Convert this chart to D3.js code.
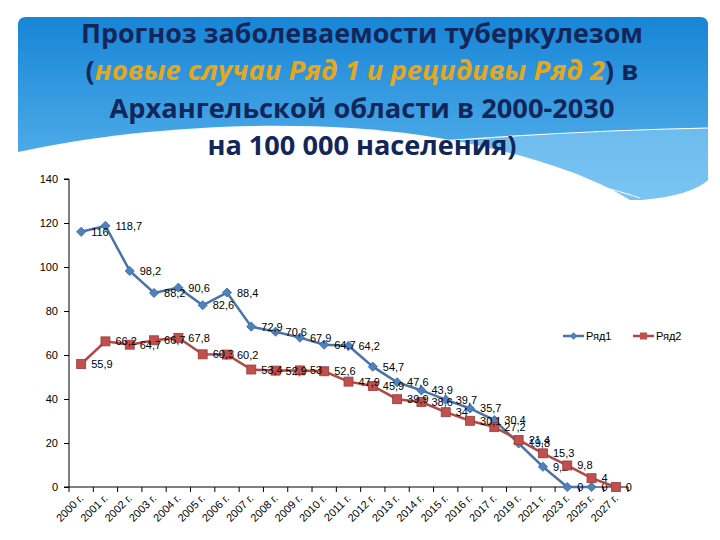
<!DOCTYPE html>
<html><head><meta charset="utf-8">
<script src="https://cdn.jsdelivr.net/npm/d3@7"></script>
<style>body{margin:0;background:#fff}svg{display:block}</style>
</head><body>
<svg id="c" width="720" height="540"></svg>
<script>
const categories = ["2000 г.","2001 г.","2002 г.","2003 г.","2004 г.","2005 г.","2006 г.","2007 г.","2008 г.","2009 г.","2010 г.","2011 г.","2012 г.","2013 г.","2014 г.","2015 г.","2016 г.","2017 г.","2019 г.","2021 г.","2023 г.","2025 г.","2027 г."];
const series1 = [116,118.7,98.2,88.2,90.6,82.6,88.4,72.9,70.6,67.9,64.7,64.2,54.7,47.6,43.9,39.7,35.7,30.4,19.8,9.2,0,0,null];
const series2 = [55.9,66.2,64.7,66.7,67.8,60.3,60.2,53.4,52.9,53,52.6,47.9,45.9,39.9,38.6,34,30.1,27.2,21.4,15.3,9.8,4,0];
const seriesNames = ["Ряд1","Ряд2"];
const yTicks = [0,20,40,60,80,100,120,140];

(function(){
const svg = d3.select("#c");
const defs = svg.append("defs");
const g = defs.append("linearGradient").attr("id","hg").attr("x1",0).attr("y1",0).attr("x2",0).attr("y2",1);
g.append("stop").attr("offset","0%").attr("stop-color","#1785d6");
g.append("stop").attr("offset","100%").attr("stop-color","#62b9ef");
defs.append("clipPath").attr("id","hc").append("path")
  .attr("d","M26,17 H700 Q708,17 708,25 V180 Q690,196 640,200 L18,200 V25 Q18,17 26,17 Z");

const hdr = svg.append("g").attr("clip-path","url(#hc)");
hdr.append("rect").attr("x",18).attr("y",17).attr("width",690).attr("height",190).attr("fill","url(#hg)");
hdr.append("path").attr("d","M380,150 C480,138 600,130 708,128 V200 H380 Z").attr("fill","#8fd0f6").attr("opacity",0.55);
hdr.append("path").attr("d","M18,152 C140,125 300,118 420,135 C520,150 590,175 630,200 L18,205 Z").attr("fill","#ffffff");
hdr.append("path").attr("d","M390,145 C500,136 610,130 708,128").attr("fill","none").attr("stroke","#ffffff").attr("stroke-width",1.2);
hdr.append("path").attr("d","M500,168 C560,175 600,185 640,198").attr("fill","none").attr("stroke","#ffffff").attr("stroke-width",1);

const tf = "'Open Sans', 'DejaVu Sans', sans-serif";
const navy = "#13265a";
function tline(yy, len){
  return svg.append("text").attr("x",362).attr("y",yy).attr("text-anchor","middle")
    .attr("font-family",tf).attr("font-weight","bold").attr("font-size",26).attr("fill",navy)
    .attr("textLength",len).attr("lengthAdjust","spacingAndGlyphs");
}
tline(43,562).text("Прогноз заболеваемости туберкулезом");
const l2 = tline(80,553);
l2.append("tspan").text("(");
l2.append("tspan").attr("fill","#e6a81a").attr("font-style","italic").text("новые случаи Ряд 1 и рецидивы Ряд 2");
l2.append("tspan").text(") в");
tline(118,505).text("Архангельской области в 2000-2030");
tline(155,309).text("на 100 000 населения)");

const pl = 69, pr = 628, pt = 179, pb = 487;
const x = d3.scaleBand().domain(categories).range([pl,pr]);
const y = d3.scaleLinear().domain([0,140]).range([pb,pt]);
const cx = d => x(d) + x.bandwidth()/2;
const lf = "'Liberation Sans', Arial, sans-serif";

// y axis
const ya = svg.append("g").attr("transform",`translate(${pl},0)`)
  .call(d3.axisLeft(y).tickValues(yTicks).tickSize(5).tickPadding(6).tickFormat(d3.format("d")));
ya.select(".domain").attr("stroke","#000").attr("d",`M-5,${pb}H0V${pt}H-5`);
ya.selectAll(".tick line").attr("stroke","#000");
ya.selectAll("text").attr("font-family",lf).attr("font-size",11).attr("fill","#000");

// x axis
const xa = svg.append("g").attr("transform",`translate(0,${pb})`)
  .call(d3.axisBottom(x).tickSize(0).tickFormat(()=>""));
xa.select(".domain").attr("stroke","#000").attr("d",`M${pl},0H${pr}`);
const bounds = categories.map((c,i)=>pl + i*x.step()).concat([pr]);
xa.selectAll(".bt").data(bounds).enter().append("line").attr("class","bt")
  .attr("x1",d=>d).attr("x2",d=>d).attr("y1",0).attr("y2",5).attr("stroke","#000");
svg.append("g").selectAll("text").data(categories).enter().append("text")
  .attr("transform",d=>`translate(${cx(d)+3},${pb+12}) rotate(-45)`)
  .attr("text-anchor","end").attr("font-family",lf).attr("font-size",11).attr("fill","#000")
  .text(d=>d);

const fmt = v => String(v).replace(".",",");
const colors = [{line:"#4a73a8", fill:"#4f81bd", stroke:"#3d6a9e"},{line:"#b04848", fill:"#c0504d", stroke:"#9c3a38"}];
const data = [series1, series2];

data.forEach((s,k)=>{
  const pts = categories.map((c,i)=>({c, v:s[i]})).filter(p=>p.v!==null);
  const line = d3.line().x(p=>cx(p.c)).y(p=>y(p.v));
  svg.append("path").attr("d",line(pts)).attr("fill","none").attr("stroke",colors[k].line).attr("stroke-width",2.5);
  const mg = svg.append("g");
  if(k===0){
    mg.selectAll("path").data(pts).enter().append("path")
      .attr("d",d3.symbol().type(d3.symbolSquare).size(42)())
      .attr("transform",p=>`translate(${cx(p.c)},${y(p.v)}) rotate(45)`)
      .attr("fill",colors[k].fill).attr("stroke",colors[k].stroke).attr("stroke-width",0.8);
  } else {
    mg.selectAll("rect").data(pts).enter().append("rect")
      .attr("x",p=>cx(p.c)-4.5).attr("y",p=>y(p.v)-4.5).attr("width",9).attr("height",9)
      .attr("fill",colors[k].fill).attr("stroke",colors[k].stroke).attr("stroke-width",0.8);
  }
  svg.append("g").selectAll("text").data(pts).enter().append("text")
    .attr("x",p=>cx(p.c)+10).attr("y",p=>y(p.v)+4)
    .attr("font-family",lf).attr("font-size",11).attr("fill","#000")
    .text(p=>fmt(p.v));
});

// legend
const leg = [{x:563, name:seriesNames[0], k:0},{x:633, name:seriesNames[1], k:1}];
leg.forEach(l=>{
  const ly = 336;
  svg.append("line").attr("x1",l.x).attr("x2",l.x+21).attr("y1",ly).attr("y2",ly).attr("stroke",colors[l.k].line).attr("stroke-width",2.5);
  if(l.k===0){
    svg.append("path").attr("d",d3.symbol().type(d3.symbolSquare).size(30)())
      .attr("transform",`translate(${l.x+10.5},${ly}) rotate(45)`).attr("fill",colors[0].fill);
  } else {
    svg.append("rect").attr("x",l.x+7).attr("y",ly-3.5).attr("width",7).attr("height",7).attr("fill",colors[1].fill);
  }
  svg.append("text").attr("x",l.x+23).attr("y",ly+4).attr("font-family",lf).attr("font-size",11).attr("fill","#000").text(l.name);
});
})();
</script>
</body></html>
